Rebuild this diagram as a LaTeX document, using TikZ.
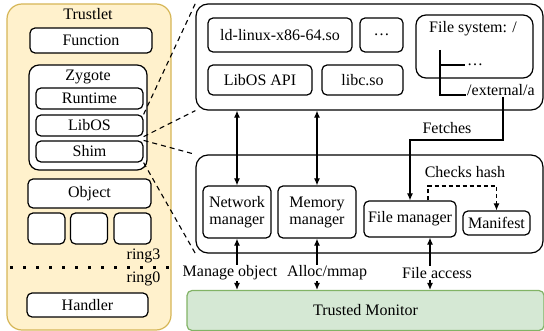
\documentclass[tikz,border=0pt]{standalone}
\usepackage{fontspec}
\setmainfont{Liberation Serif}
\newfontfamily\diagfont{Liberation Serif}
\usepackage{tikz}
\usetikzlibrary{arrows.meta}

\definecolor{trustfill}{RGB}{255,241,204}
\definecolor{trustline}{RGB}{214,182,86}
\definecolor{tmfill}{RGB}{213,232,212}
\definecolor{tmline}{RGB}{130,179,102}

\tikzset{
  box/.style={draw, line width=1.2pt, rounded corners=5pt, fill=white,
    inner sep=0pt, align=center},
  bigbox/.style={box, rounded corners=12pt},
  zoomline/.style={dashed, line width=1.1pt, dash pattern=on 5pt off 4pt},
  link/.style={line width=1.1pt, -{Latex[length=7pt,width=6pt]}},
  biglink/.style={line width=1.1pt, {Latex[length=7pt,width=6pt]}-{Latex[length=7pt,width=6pt]}},
  lbl/.style={fill=white, inner sep=1pt},
}

\begin{document}
\begin{tikzpicture}[x=1pt, y=-1pt, font=\diagfont\fontsize{16}{17}\selectfont]
    \useasboundingbox (0,0) rectangle (544,331);

    % trustlet side
    \node (trustlet) [box, rounded corners=15pt, draw=trustline, fill=trustfill,
      minimum width=164pt, minimum height=326pt] at (89,167) {};
    \node (trustlettxt) at (88,14) {Trustlet};
    \node (func) [box, minimum width=122pt, minimum height=25pt] at (91,40.5) {Function};
    \node (zygote) [box, rounded corners=10pt, minimum width=118pt, minimum height=105pt] at (88,117.5) {};
    \node (zygotetxt) at (88,77) {Zygote};
    \node (runtime) [box, minimum width=107pt, minimum height=21pt] at (89.5,98.5) {Runtime};
    \node (libos) [box, minimum width=107pt, minimum height=21pt] at (89.5,125.5) {LibOS};
    \node (shim) [box, minimum width=107pt, minimum height=21pt] at (89.5,151.5) {Shim};
    \node (object) [box, minimum width=123pt, minimum height=29pt] at (89.5,193.5) {Object};
    \node (objA) [box, minimum width=37pt, minimum height=31pt] at (46.5,228.5) {};
    \node (objB) [box, minimum width=37pt, minimum height=31pt] at (89,228.5) {};
    \node (objC) [box, minimum width=37pt, minimum height=31pt] at (132.5,228.5) {};
    \node (ring3) [anchor=east] at (164,256) {ring3};
    \node (ring0) [anchor=east] at (164,279) {ring0};
    \coordinate (ringL) at (10,268);
    \coordinate (ringR) at (173,268);
    \draw[line width=3pt, dash pattern=on 3pt off 10pt] (ringL) -- (ringR);
    \node (handler) [box, minimum width=121pt, minimum height=24pt] at (87.5,305) {Handler};

    % libos upper part
    \node (upper) [bigbox, minimum width=347pt, minimum height=106pt] at (369.5,57) {};
    \node (ldlinux) [box, minimum width=144pt, minimum height=34pt] at (280,35) {ld-linux-x86-64.so};
    \node (more) [box, minimum width=43pt, minimum height=34pt] at (381.5,35) {\dots};
    \node (fs) [box, rounded corners=10pt, minimum width=117pt, minimum height=63pt] at (474.5,46.5) {};
    \node (fstxt) at (473,29) {File system: /};
    \node (libosapi) [box, minimum width=104pt, minimum height=30pt] at (260,80) {LibOS API};
    \node (libc) [box, minimum width=81pt, minimum height=30pt] at (362.5,80) {libc.so};
    \coordinate (treetop) at (440,50);
    \coordinate (treemid) at (440,65);
    \coordinate (treebot) at (440,95);
    \node (fsdots) [anchor=west, inner sep=2pt] at (465,65) {\dots};
    \node (ext) [anchor=west, inner sep=1pt] at (466,90) {/external/a};
    \draw[line width=1.1pt] (treetop) -- (treebot) -- (treebot -| ext.west);
    \draw[line width=1.1pt] (treemid) -- (fsdots.west);

    % libos lower part
    \node (lower) [bigbox, minimum width=347pt, minimum height=98pt] at (369.5,204) {};
    \node (netmgr) [box, minimum width=68pt, minimum height=52pt] at (237,212) {Network\\manager};
    \node (memmgr) [box, minimum width=78pt, minimum height=52pt] at (317,212) {Memory\\manager};
    \node (filemgr) [box, minimum width=92pt, minimum height=36pt] at (410,219) {File manager};
    \node (manifest) [box, minimum width=67pt, minimum height=24pt] at (496.5,223) {Manifest};
    \node (checks) at (465,172) {Checks hash};
    \coordinate (hashL) at (428,186);
    \coordinate (hashR) at (manifest.north |- hashL);
    \draw[link, dashed, dash pattern=on 4pt off 3pt] (filemgr.north -| hashL) -- (hashL) -- (hashR) -- (manifest.north);
    \coordinate (fetchturn) at (503,140);
    \draw[link] (ext.south -| fetchturn) -- (fetchturn) -| (filemgr.north);
    \node (fetches) at (447,128) {Fetches};
    \draw[biglink] (netmgr.north) -- (netmgr.north |- upper.south);
    \draw[biglink] (memmgr.north) -- (memmgr.north |- upper.south);

    % trusted monitor
    \node (tm) [box, draw=tmline, fill=tmfill, minimum width=357pt, minimum height=40pt] at (365.5,310.5) {Trusted Monitor};
    \coordinate (faccx) at (430,0);
    \draw[biglink] (netmgr.south) -- (netmgr.south |- tm.north);
    \draw[biglink] (memmgr.south) -- (memmgr.south |- tm.north);
    \draw[biglink] (filemgr.south -| faccx) -- (faccx |- tm.north);
    \node (mgobj) [lbl] at (230,273) {Manage object};
    \node (alloc) [lbl] at (327,273) {Alloc/mmap};
    \node (facc) [lbl] at (437,273) {File access};

    % zoom lines
    \draw[zoomline] (libos.north east) -- (upper.north west);
    \draw[zoomline] (libos.south east) -- (upper.south west);
    \draw[zoomline] (shim.north east) -- (lower.north west);
    \draw[zoomline] (shim.south east) -- (lower.south west);
\end{tikzpicture}
\end{document}
